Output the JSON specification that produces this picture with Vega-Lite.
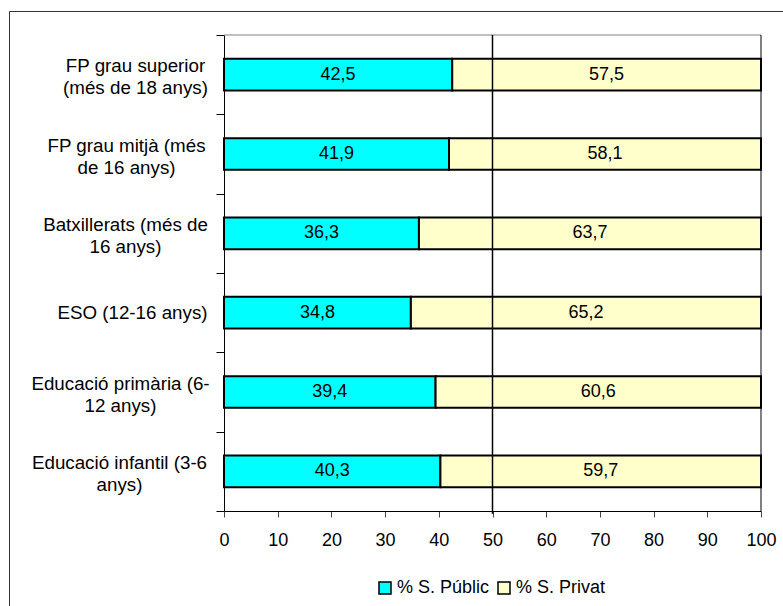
{
  "$schema": "https://vega.github.io/schema/vega-lite/v6.json",
  "width": 775,
  "height": 595,
  "autosize": "none",
  "padding": {"left": 9, "top": 11, "right": 0, "bottom": 0},
  "background": "white",
  "config": {
    "view": {"stroke": "#333333", "strokeWidth": 1},
    "font": "Liberation Sans",
    "locale": {"number": {"decimal": ",", "thousands": ".", "grouping": [3], "currency": ["", " €"]}}
  },
  "data": {
    "values": [
      {"category": "FP grau superior (més de 18 anys)", "serie": "% S. Públic", "value": 42.5},
      {"category": "FP grau superior (més de 18 anys)", "serie": "% S. Privat", "value": 57.5},
      {"category": "FP grau mitjà (més de 16 anys)", "serie": "% S. Públic", "value": 41.9},
      {"category": "FP grau mitjà (més de 16 anys)", "serie": "% S. Privat", "value": 58.1},
      {"category": "Batxillerats (més de 16 anys)", "serie": "% S. Públic", "value": 36.3},
      {"category": "Batxillerats (més de 16 anys)", "serie": "% S. Privat", "value": 63.7},
      {"category": "ESO (12-16 anys)", "serie": "% S. Públic", "value": 34.8},
      {"category": "ESO (12-16 anys)", "serie": "% S. Privat", "value": 65.2},
      {"category": "Educació primària (6-12 anys)", "serie": "% S. Públic", "value": 39.4},
      {"category": "Educació primària (6-12 anys)", "serie": "% S. Privat", "value": 60.6},
      {"category": "Educació infantil (3-6 anys)", "serie": "% S. Públic", "value": 40.3},
      {"category": "Educació infantil (3-6 anys)", "serie": "% S. Privat", "value": 59.7}
    ]
  },
  "layer": [
    {
      "encoding": {
        "y": {
          "field": "category",
          "type": "nominal",
          "sort": null,
          "scale": {
            "domain": ["FP grau superior (més de 18 anys)", "FP grau mitjà (més de 16 anys)", "Batxillerats (més de 16 anys)", "ESO (12-16 anys)", "Educació primària (6-12 anys)", "Educació infantil (3-6 anys)"],
            "range": [24, 500],
            "paddingInner": 0,
            "paddingOuter": 0
          },
          "axis": {
            "orient": "left",
            "offset": -215,
            "title": null,
            "grid": false,
            "tickBand": "extent",
            "tickSize": 8,
            "tickColor": "black",
            "domainColor": "black",
            "labelAlign": "center",
            "labelBaseline": "middle",
            "labelPadding": {"condition": [
              {"test": "datum.value == 'FP grau superior (més de 18 anys)'", "value": 81},
              {"test": "datum.value == 'FP grau mitjà (més de 16 anys)'", "value": 90},
              {"test": "datum.value == 'Batxillerats (més de 16 anys)'", "value": 91},
              {"test": "datum.value == 'ESO (12-16 anys)'", "value": 84},
              {"test": "datum.value == 'Educació primària (6-12 anys)'", "value": 96}
            ], "value": 97},
            "labelFontSize": 18.75,
            "labelFont": "Liberation Sans",
            "labelColor": "black",
            "labelLineHeight": 22,
            "labelLimit": 400,
            "labelOverlap": false,
            "labelOffset": {"condition": {"test": "datum.value == 'ESO (12-16 anys)'", "value": 0}, "value": -9},
            "labelExpr": "datum.label == 'FP grau superior (més de 18 anys)' ? ['FP grau superior','(més de 18 anys)'] : datum.label == 'FP grau mitjà (més de 16 anys)' ? ['FP grau mitjà (més','de 16 anys)'] : datum.label == 'Batxillerats (més de 16 anys)' ? ['Batxillerats (més de','16 anys)'] : datum.label == 'Educació primària (6-12 anys)' ? ['Educació primària (6-','12 anys)'] : datum.label == 'Educació infantil (3-6 anys)' ? ['Educació infantil (3-6','anys)'] : datum.label"
          }
        }
      },
      "layer": [
        {
          "mark": {"type": "bar", "height": {"band": 0.4}, "stroke": "black", "strokeWidth": 2},
          "encoding": {
            "x": {
              "field": "value",
              "type": "quantitative",
              "stack": "zero",
              "scale": {"domain": [0, 100], "range": [215, 752], "nice": false},
              "axis": {
                "orient": "bottom",
                "offset": -95,
                "title": null,
                "grid": false,
                "values": [0, 10, 20, 30, 40, 50, 60, 70, 80, 90, 100],
                "format": "d",
                "tickSize": 6,
                "tickColor": "#444444",
                "domainColor": "black",
                "labelFontSize": 18,
                "labelFont": "Liberation Sans",
                "labelColor": "black",
                "labelPadding": 14,
                "labelFlush": false,
                "labelOverlap": false
              }
            },
            "color": {
              "field": "serie",
              "type": "nominal",
              "scale": {"domain": ["% S. Públic", "% S. Privat"], "range": ["#00FFFF", "#FFFFCC"]},
              "legend": {
                "orient": "none",
                "legendX": 367,
                "legendY": 568,
                "direction": "horizontal",
                "title": null,
                "symbolType": "square",
                "symbolSize": 144,
                "symbolStrokeColor": "black",
                "symbolStrokeWidth": 1.5,
                "labelFontSize": 18,
                "labelFont": "Liberation Sans",
                "labelColor": "black",
                "columnPadding": 5,
                "labelOffset": 3,
                "padding": 0
              }
            },
            "order": {"field": "serie", "sort": "descending"}
          }
        },
        {
          "mark": {"type": "text", "fontSize": 18, "font": "Liberation Sans", "color": "black", "align": "center", "baseline": "middle"},
          "encoding": {
            "x": {"field": "value", "type": "quantitative", "stack": "zero", "bandPosition": 0.5},
            "detail": {"field": "serie"},
            "order": {"field": "serie", "sort": "descending"},
            "text": {"field": "value", "type": "quantitative", "format": ".1f"}
          }
        }
      ]
    },
    {
      "data": {"values": [{}]},
      "layer": [
        {
          "mark": {"type": "rule", "color": "#808080", "strokeWidth": 1},
          "encoding": {
            "x": {"datum": 0, "type": "quantitative"},
            "x2": {"datum": 100},
            "y": {"datum": 1, "type": "quantitative", "scale": {"domain": [0, 1], "range": [500, 24]}, "axis": null}
          }
        },
        {
          "mark": {"type": "rule", "color": "black", "strokeWidth": 1},
          "encoding": {
            "x": {"datum": 100, "type": "quantitative"},
            "y": {"datum": 0, "type": "quantitative", "scale": {"domain": [0, 1], "range": [500, 24]}, "axis": null},
            "y2": {"datum": 1}
          }
        },
        {
          "mark": {"type": "rule", "color": "black", "strokeWidth": 1.5},
          "encoding": {
            "x": {"datum": 50, "type": "quantitative"},
            "y": {"datum": -0.006, "type": "quantitative", "scale": {"domain": [0, 1], "range": [500, 24]}, "axis": null},
            "y2": {"datum": 1}
          }
        }
      ]
    }
  ],
  "resolve": {"scale": {"y": "independent"}, "axis": {"y": "independent"}}
}
